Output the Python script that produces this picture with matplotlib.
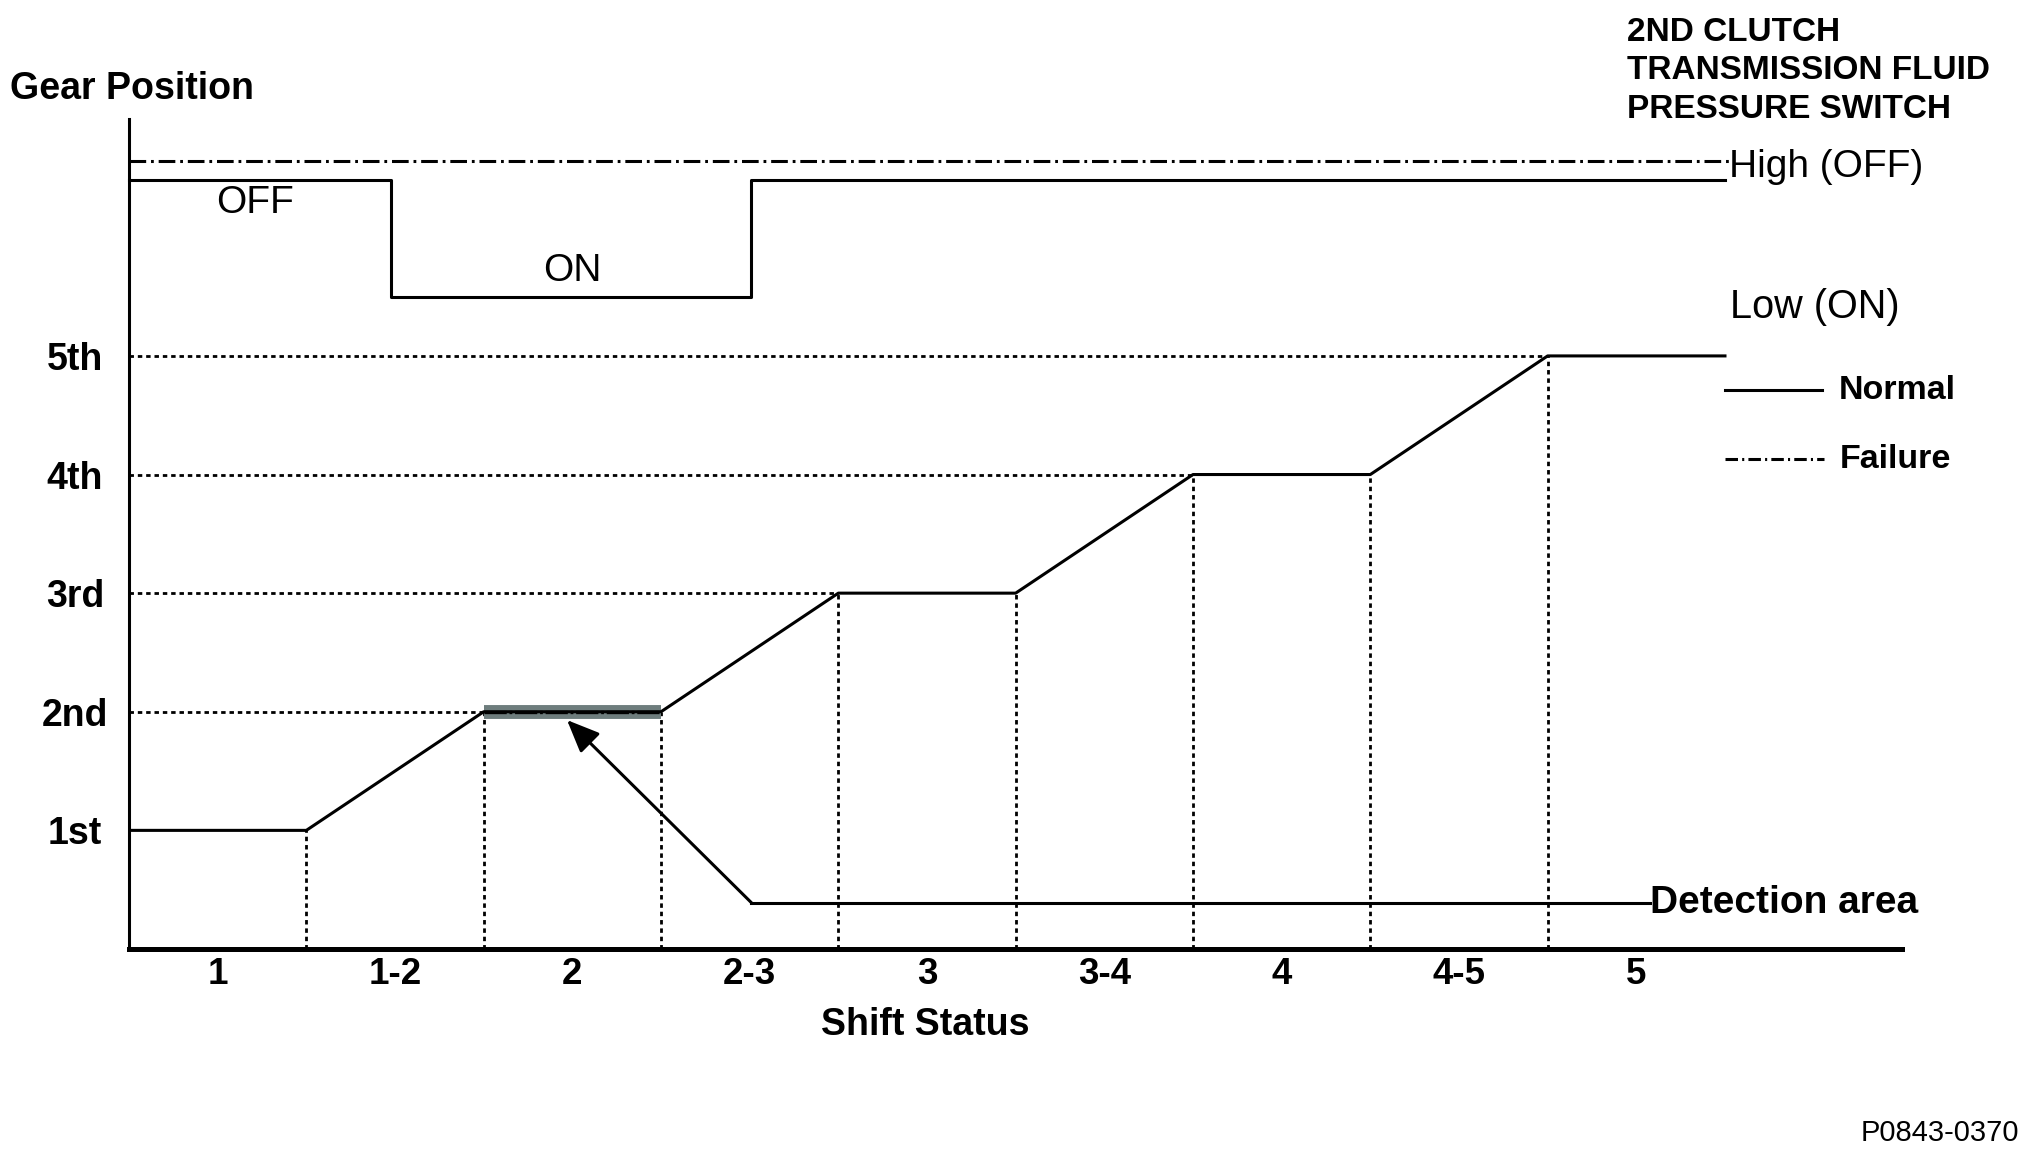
import matplotlib
matplotlib.use("Agg")
import matplotlib.pyplot as plt

plt.rcParams['font.family'] = ['Liberation Sans', 'DejaVu Sans']
plt.rcParams['lines.scale_dashes'] = False

# data
shift_labels = ['1', '1-2', '2', '2-3', '3', '3-4', '4', '4-5', '5']
gear_labels = ['1st', '2nd', '3rd', '4th', '5th']
gear_levels = [1, 2, 3, 4, 5]

# gear position (normal) vs shift status
gear_x = [0, 1, 2, 3, 4, 5, 6, 7, 8, 9]
gear_y = [1, 1, 2, 2, 3, 3, 4, 4, 5, 5]

# 2nd clutch pressure switch (normal)
switch_x = [0, 1.48, 1.48, 3.51, 3.51, 9.0]
switch_y = [6.48, 6.48, 5.5, 5.5, 6.48, 6.48]

# pressure switch (failure) stays high
failure_x = [0, 9.03]
failure_y = [6.64, 6.64]

# detection area marker (2nd gear flat part)
detect_x = [2, 3]
detect_y = [2, 2]

dashdot = (0, (12, 3.5, 2, 3.5))
dotted = (0, (3.2, 2.8))
lw = 2.2

fig = plt.figure(figsize=(20.22, 11.58), dpi=100)
ax = fig.add_axes([0.0638, 0.1805, 0.877, 0.717])
ax.set_xlim(0, 10)
ax.set_ylim(0, 7)
for s in ['top', 'right']:
    ax.spines[s].set_visible(False)
ax.spines['left'].set_linewidth(2.2)
ax.spines['bottom'].set_linewidth(3.6)
ax.tick_params(length=0)

# guide lines
for gx, gy in zip(gear_x[1:9], gear_y[1:9]):
    ax.plot([gx, gx], [0, gy], color='black', lw=2, linestyle=dotted)
for lvl in gear_levels[1:]:
    xe = gear_x[gear_y.index(lvl)]
    ax.plot([0, xe], [lvl, lvl], color='black', lw=2, linestyle=dotted)

# highlighted 2nd gear band
ax.plot(detect_x, detect_y, color='#6e7d7d', lw=10, solid_capstyle='butt', zorder=3)
ax.plot(detect_x, detect_y, color='black', lw=2.4, linestyle=(0, (16, 2, 2, 2)), zorder=4)

ax.plot(gear_x, gear_y, color='black', lw=lw, zorder=5)
ax.plot(switch_x, switch_y, color='black', lw=lw, clip_on=False)
ax.plot(failure_x, failure_y, color='black', lw=lw, linestyle=dashdot, clip_on=False)

# detection area pointer
ax.plot([3.51, 8.58], [0.39, 0.39], color='black', lw=lw)
ax.annotate('', xy=(2.47, 1.93), xytext=(3.51, 0.39),
            arrowprops=dict(arrowstyle='-|>,head_length=2.0,head_width=0.85',
                            color='black', lw=lw, shrinkA=0, shrinkB=0))
ax.text(8.58, 0.39, 'Detection area', fontsize=28, fontweight='bold', va='center', ha='left')

ax.text(0.71, 6.29, 'OFF', fontsize=28, ha='center', va='center')
ax.text(2.5, 5.72, 'ON', fontsize=28, ha='center', va='center')

# ticks
ax.set_xticks([i + 0.5 for i in range(len(shift_labels))])
ax.set_xticklabels(shift_labels, fontsize=26.5, fontweight='bold')
ax.tick_params(axis='x', pad=6)
ax.set_yticks(gear_levels)
ax.set_yticklabels(gear_labels, fontsize=27, fontweight='bold', ha='center')
ax.tick_params(axis='y', pad=39)

ax.text(4.49, -0.64, 'Shift Status', fontsize=27, fontweight='bold', ha='center', va='center')
ax.text(-0.67, 7.25, 'Gear Position', fontsize=27, fontweight='bold', ha='left', va='center', clip_on=False)

ax.text(8.45, 7.86, '2ND CLUTCH\nTRANSMISSION FLUID\nPRESSURE SWITCH', fontsize=24,
        fontweight='bold', ha='left', va='top', linespacing=1.31, clip_on=False)
ax.text(9.02, 6.59, 'High (OFF)', fontsize=28, ha='left', va='center', clip_on=False)
ax.text(9.03, 5.41, 'Low (ON)', fontsize=28.5, ha='left', va='center', clip_on=False)

# legend drawn by hand
ax.plot([9.0, 9.55], [4.71, 4.71], color='black', lw=lw, clip_on=False)
ax.text(9.64, 4.71, 'Normal', fontsize=24.5, fontweight='bold', ha='left', va='center')
ax.plot([9.0, 9.56], [4.13, 4.13], color='black', lw=lw, linestyle=(0, (9, 3, 1.5, 3)), clip_on=False)
ax.text(9.65, 4.13, 'Failure', fontsize=24.5, fontweight='bold', ha='left', va='center')

fig.text(0.9987, 0.022, 'P0843-0370', fontsize=21, ha='right', va='center')

fig.savefig('out.png', dpi=100)
